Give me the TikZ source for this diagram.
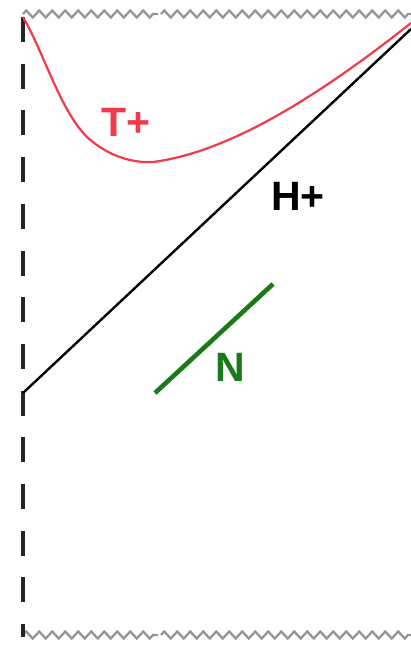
\documentclass[tikz,border=0pt]{standalone}
\usepackage{fontspec}
\setmainfont{Liberation Sans}
\usetikzlibrary{decorations.pathmorphing}
\definecolor{tred}{HTML}{F23A4A}
\definecolor{ngreen}{HTML}{1A7A1A}
\definecolor{wavegray}{HTML}{959595}
\tikzset{
  lbl/.style={font=\fontsize{41}{43}\selectfont\bfseries, inner sep=0pt, anchor=center},
  wave/.style={draw=wavegray, line width=2.3pt, decorate, decoration={zigzag, segment length=13pt, amplitude=3.5pt}},
  boundary/.style={draw=black!85, line width=3.4pt, dash pattern=on 25pt off 21.7pt},
}
\begin{document}
\begin{tikzpicture}[x=1pt,y=-1pt]
\useasboundingbox (0,0) rectangle (411,645);
\coordinate (tl) at (23,17);
\coordinate (bl) at (23,637);
\coordinate (hl) at (23,393);
\coordinate (hr) at (411,29);
\coordinate (tr) at (411,23);
\coordinate (n1) at (155,393);
\coordinate (n2) at (273,284);
% wavy singularities
\draw[wave] (23,14) -- (158,14);
\draw[wave] (161,14) -- (411,14);
\draw[wave] (23,635) -- (158,635);
\draw[wave] (161,635) -- (411,635);
% dashed axis
\draw[boundary] (tl) -- (bl);
% horizon
\draw[black, line width=2.4pt] (hl) -- (hr);
% T+ curve
\draw[tred, line width=2.2pt] (tl) .. controls (44,53) and (60,110) .. (87,137)
  .. controls (110,158) and (135,163) .. (153,162)
  .. controls (230,152) and (320,95) .. (tr);
% N
\draw[ngreen, line width=4.6pt] (n1) -- (n2);
\node[lbl, text=tred] (tplus) at (126,122) {T+};
\node[lbl, text=black] (hplus) at (298,196) {H+};
\node[lbl, text=ngreen] (nlab) at (230,367) {N};
\end{tikzpicture}
\end{document}
